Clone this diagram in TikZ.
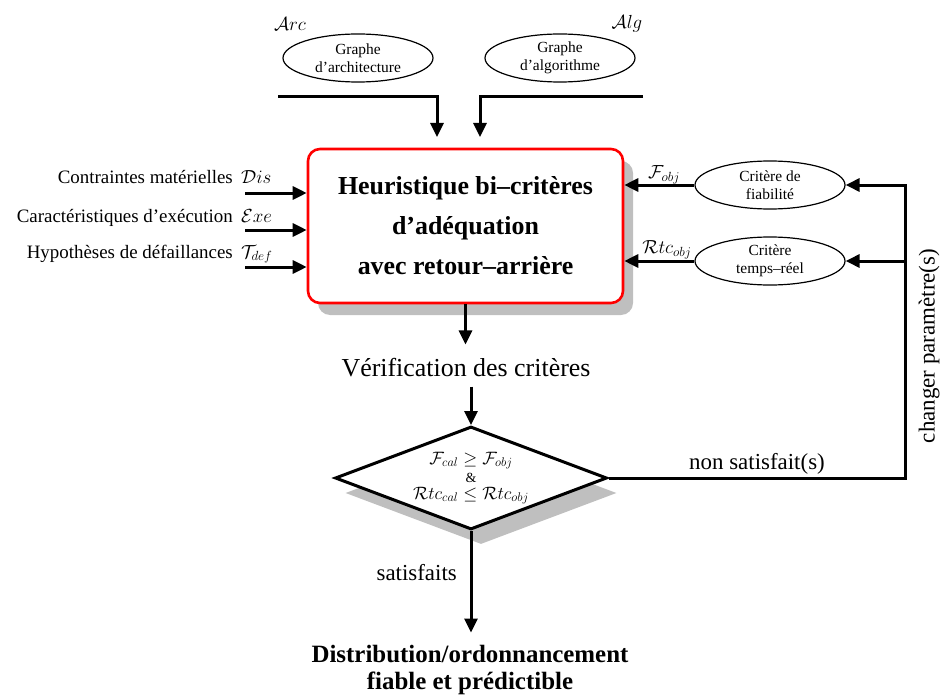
\RequirePackage{fix-cm}
\documentclass[tikz,border=0pt]{standalone}
\usepackage{fontspec}
\setmainfont{Liberation Serif}
\usetikzlibrary{arrows.meta,shapes.geometric,shadows}
\begin{document}
\begin{tikzpicture}[x=1bp,y=-1bp,
  conn/.style={line width=3bp,-{Triangle[length=14bp,width=13bp]}},
  oval/.style={ellipse,draw,line width=1.2bp,fill=white,minimum width=150bp,minimum height=48bp,inner sep=0pt,align=center,font=\fontsize{15.5}{18}\selectfont},
  mainbox/.style={draw=red,line width=2.6bp,rounded corners=12bp,fill=white,minimum width=315bp,minimum height=154bp,align=center,font=\fontsize{26}{40}\selectfont\bfseries,
    drop shadow={shadow xshift=10bp,shadow yshift=-12bp,fill=black!25,opacity=1}},
  decision/.style={diamond,draw,line width=3bp,fill=white,minimum width=272bp,minimum height=103bp,aspect=2.64,inner sep=0pt,align=center,font=\fontsize{18}{17}\selectfont,
    drop shadow={shadow xshift=10bp,shadow yshift=-15bp,fill=black!25,opacity=1}},
  lbl/.style={font=\fontsize{19}{22}\selectfont,inner sep=0pt},
  mlbl/.style={font=\fontsize{23}{26}\selectfont,inner sep=0pt},
]
\useasboundingbox (0,0) rectangle (940,697);

% top ellipses
\node[oval] (arch) at (358,58) {Graphe\\d’architecture};
\node[oval] (algo) at (560,58) {Graphe\\d’algorithme};
\node[lbl] (arc) at (290,24) {$\mathcal{A}rc$};
\node[lbl] (alg) at (627,24) {$\mathcal{A}lg$};

% main box
\node[mainbox] (box) at (465.5,226) {Heuristique bi–critères\\d’adéquation\\avec retour–arrière};

% top arrows
\coordinate (ta1) at (278,97);
\coordinate (ta2) at (437,137);
\coordinate (tb1) at (643,97);
\coordinate (tb2) at (480,137);
\draw[conn] (ta1) -| (ta2);
\draw[conn] (tb1) -| (tb2);

% left inputs
\node[lbl,anchor=base east] (c1) at (233,184) {Contraintes matérielles};
\node[lbl,anchor=base west] (m1) at (241,184) {$\mathcal{D}is$};
\node[lbl,anchor=base east] (c2) at (233,222) {Caractéristiques d’exécution};
\node[lbl,anchor=base west] (m2) at (241,222) {$\mathcal{E}xe$};
\node[lbl,anchor=base east] (c3) at (233,258) {Hypothèses de défaillances};
\node[lbl,anchor=base west] (m3) at (241,258) {$\mathcal{T}_{def}$};
\coordinate (la1) at (245,193);
\coordinate (la2) at (245,230);
\coordinate (la3) at (245,267);
\draw[conn] (la1) -- (la1 -| box.west);
\draw[conn] (la2) -- (la2 -| box.west);
\draw[conn] (la3) -- (la3 -| box.west);

% right criteria
\node[oval] (crit1) at (770,185) {Critère de\\fiabilité};
\node[oval] (crit2) at (770,261) {Critère\\temps–réel};
\node[lbl] (fobj) at (664,175) {$\mathcal{F}_{obj}$};
\node[lbl] (robj) at (667,250) {$\mathcal{R}tc_{obj}$};
\draw[conn] (crit1.west) -- (crit1.west -| box.east);
\draw[conn] (crit2.west) -- (crit2.west -| box.east);

% verification
\node[font=\fontsize{26}{30}\selectfont,inner sep=0pt] (verif) at (466,368) {Vérification des critères};
\draw[conn,shorten >=14bp] (box.south) -- (box.south |- verif.north);

% decision
\node[decision] (dia) at (471,478) {$\mathcal{F}_{cal}\geq\mathcal{F}_{obj}$\\[1bp]{\fontsize{14}{14}\selectfont\&}\\[0bp]$\mathcal{R}tc_{cal}\leq\mathcal{R}tc_{obj}$};
\draw[conn,shorten <=9bp] (verif.south -| dia.north) -- (dia.north);

% feedback
\coordinate (fb) at (905,185);
\draw[conn] (dia.east) -| (fb) -- (crit1.east);
\draw[conn] (fb |- crit2.east) -- (crit2.east);
\node[mlbl] (nons) at (757,464) {non satisfait(s)};
\node[mlbl,rotate=90] (chg) at (929,346) {changer paramètre(s)};

% result
\node[font=\fontsize{25}{28}\selectfont\bfseries,align=center,inner sep=0pt] (final) at (470,670) {Distribution/ordonnancement\\fiable et prédictible};
\draw[conn,shorten >=12bp] (dia.south) -- (dia.south |- final.north);
\node[mlbl,anchor=east] (sat) at (457,573) {satisfaits};
\end{tikzpicture}
\end{document}
